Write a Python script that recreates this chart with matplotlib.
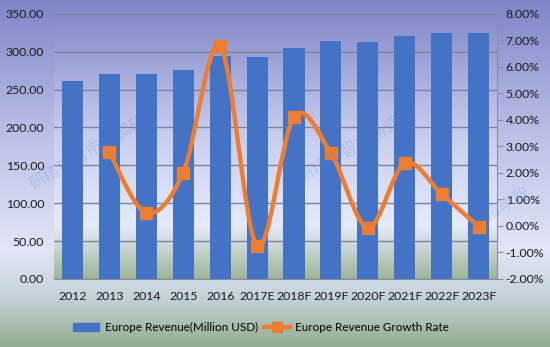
import numpy as np
import matplotlib
matplotlib.use("Agg")
import matplotlib.pyplot as plt
from matplotlib.path import Path
from matplotlib.patches import PathPatch
from matplotlib.lines import Line2D
from matplotlib.colors import LinearSegmentedColormap

years = ["2012", "2013", "2014", "2015", "2016", "2017E", "2018F", "2019F",
         "2020F", "2021F", "2022F", "2023F"]
revenue = [262, 270, 271, 276.5, 295, 293, 305.5, 314, 313.5, 321, 325, 325]
growth = [None, 2.78, 0.50, 2.01, 6.77, -0.75, 4.12, 2.74, -0.06, 2.37, 1.20, -0.03]
left_ticks = [0, 50, 100, 150, 200, 250, 300, 350]
right_ticks = [-2, -1, 0, 1, 2, 3, 4, 5, 6, 7, 8]

plt.rcParams['font.family'] = ['Lato', 'DejaVu Sans']
BAR = "#4472C4"
ORANGE = "#ED7D31"
FS = 8.8

fig = plt.figure(figsize=(5.5, 3.47), dpi=100)

# figure background gradient
bg = fig.add_axes([0, 0, 1, 1], zorder=-10)
bg_cmap = LinearSegmentedColormap.from_list("bg", [
    (0.0, (0.50, 0.52, 0.78)),
    (0.40, (0.74, 0.76, 0.91)),
    (0.72, (0.88, 0.90, 0.97)),
    (0.85, (0.78, 0.83, 0.86)),
    (1.0, (0.58, 0.68, 0.56))])
bg.imshow(np.linspace(0, 1, 256).reshape(-1, 1), aspect="auto", cmap=bg_cmap,
          extent=[0, 1, 0, 1], origin="upper")
bg.set_axis_off()

ax = fig.add_axes([0.098, 0.196, 0.806, 0.764])
x = np.arange(len(years))

# plot area gradient
pa_cmap = LinearSegmentedColormap.from_list("pa", [
    (0.0, (0.52, 0.54, 0.79)),
    (0.45, (0.78, 0.80, 0.93)),
    (0.80, (0.90, 0.92, 0.98)),
    (0.86, (0.82, 0.86, 0.88)),
    (1.0, (0.62, 0.71, 0.58))])
ax.imshow(np.linspace(0, 1, 256).reshape(-1, 1), aspect="auto", cmap=pa_cmap,
          extent=[-0.5, len(years) - 0.5, 0, 350], origin="upper", zorder=0)

ax.bar(x, revenue, width=0.57, color=BAR, zorder=3)
ax.set_xlim(-0.5, len(years) - 0.5)
ax.set_ylim(0, 350)
ax.set_yticks(left_ticks)
ax.set_yticklabels([f"{v:.2f}" for v in left_ticks])
ax.set_xticks(x)
ax.set_xticklabels(years)
ax.yaxis.grid(True, color="#80829a", linewidth=1.0, zorder=1)
ax.set_axisbelow(False)
for s in ["top", "right", "left"]:
    ax.spines[s].set_visible(False)
ax.spines["bottom"].set_color("#8a8ca0")
ax.tick_params(axis="both", length=0, labelsize=FS, colors="#1a1a1a")
ax.tick_params(axis="y", pad=7)
ax.tick_params(axis="x", pad=9)

ax2 = ax.twinx()
ax2.set_ylim(-2, 8)
ax2.set_yticks(right_ticks)
ax2.set_yticklabels([f"{v:.2f}%" for v in right_ticks])
ax2.tick_params(axis="y", length=4, labelsize=FS, colors="#1a1a1a", pad=2)
ax2.tick_params(axis="y", color="#8a8ca0")
for s in ["top", "left", "bottom"]:
    ax2.spines[s].set_visible(False)
ax2.spines["right"].set_color("#8a8ca0")

# smoothed line (Catmull-Rom style Bezier, like Excel smoothing)
gx = [i for i, g in enumerate(growth) if g is not None]
gy = [g for g in growth if g is not None]
pts = np.column_stack([gx, gy]).astype(float)
verts = [tuple(pts[0])]
codes = [Path.MOVETO]
n = len(pts)
for i in range(n - 1):
    p0 = pts[i - 1] if i > 0 else pts[i]
    p1 = pts[i]
    p2 = pts[i + 1]
    p3 = pts[i + 2] if i + 2 < n else pts[i + 1]
    c1 = p1 + (p2 - p0) / 6.0
    c2 = p2 - (p3 - p1) / 6.0
    verts += [tuple(c1), tuple(c2), tuple(p2)]
    codes += [Path.CURVE4] * 3
ax2.add_patch(PathPatch(Path(verts, codes), facecolor="none", edgecolor=ORANGE,
                        linewidth=3.2, zorder=4, capstyle="round"))
ax2.plot(gx, gy, linestyle="none", marker="s", markersize=8.5, color=ORANGE,
         zorder=5)

# faint watermarks
wm = dict(family=['Noto Sans CJK SC', 'DejaVu Sans'], color="#5a7fd0",
          alpha=0.22, rotation=30, ha="center", va="center", fontsize=12)
fig.text(0.16, 0.56, "研精毕智市场调研", **wm)
fig.text(0.65, 0.58, "研精毕智市场调研", **wm)
fig.text(0.91, 0.40, "研精毕智", **wm)

# legend
handles = [plt.Rectangle((0, 0), 1, 1, color=BAR),
           Line2D([0], [0], color=ORANGE, linewidth=3.2, marker="s",
                  markersize=7)]
fig.legend(handles, ["Europe Revenue(Million USD)", "Europe Revenue Growth Rate"],
           loc="center", bbox_to_anchor=(0.475, 0.055), ncol=2, frameon=False,
           fontsize=8.4, handlelength=2.2, columnspacing=0.5, handletextpad=0.5)

fig.savefig("out.png", dpi=100)
